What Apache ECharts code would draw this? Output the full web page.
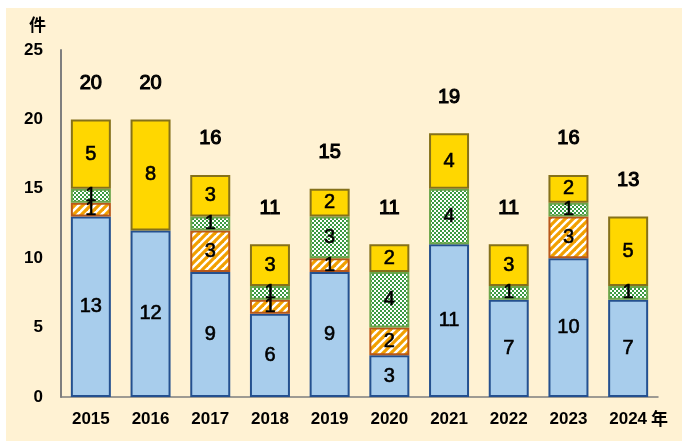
<!DOCTYPE html>
<html><head><meta charset="utf-8">
<script src="https://cdn.jsdelivr.net/npm/echarts@6/dist/echarts.min.js"></script>
<style>html,body{margin:0;padding:0;background:#fff}#c{width:682px;height:444px}</style>
</head><body><div id="c"></div>
<script>
const categories = ['2015','2016','2017','2018','2019','2020','2021','2022','2023','2024'];
const blueVals   = [13,12,9,6,9,3,11,7,10,7];
const orangeVals = [1,0,3,1,1,2,0,0,3,0];
const greenVals  = [1,0,1,1,3,4,4,1,1,1];
const yellowVals = [5,8,3,3,2,2,4,3,2,5];
const totals     = [20,20,16,11,15,11,19,11,16,13];
const yTicks = [0,5,10,15,20,25];

function stripePattern(){
  const c=document.createElement('canvas'); c.width=8; c.height=8;
  const x=c.getContext('2d');
  x.fillStyle='#ffffff'; x.fillRect(0,0,8,8);
  x.strokeStyle='#F2A000'; x.lineWidth=3.2;
  [[-8,8,8,-8],[0,8,8,0],[0,16,16,0]].forEach(l=>{x.beginPath();x.moveTo(l[0],l[1]);x.lineTo(l[2],l[3]);x.stroke();});
  return c;
}
function checkerPattern(){
  const c=document.createElement('canvas'); c.width=4; c.height=4;
  const x=c.getContext('2d');
  x.fillStyle='#3A9A42'; x.fillRect(0,0,4,4);
  x.fillStyle='#ffffff'; x.fillRect(0,0,2,2); x.fillRect(2,2,2,2);
  return c;
}
const FONT = '"Liberation Sans", Arial, "Noto Sans CJK JP", sans-serif';
const nz = arr => arr.map(v => v === 0 ? '-' : v);
const innerLabel = {show:true, position:'inside', color:'#000', fontSize:20, fontFamily:FONT,
  textBorderColor:'#000', textBorderWidth:0.6,
  formatter: p => p.value ? String(p.value) : ''};

function barSeries(name, vals, color, border){
  return {name, type:'bar', stack:'s', data:nz(vals), barWidth:'67%',
    itemStyle:{color, borderColor:border, borderWidth:2}, label:innerLabel};
}

const chart = echarts.init(document.getElementById('c'), null, {renderer:'canvas'});
chart.setOption({
  backgroundColor:'#ffffff',
  animation:false,
  textStyle:{fontFamily:FONT},
  graphic:[
    {type:'rect', z:-10, shape:{x:6,y:8,width:676,height:433}, style:{fill:'#FFF2D3'}},
    {type:'text', left:29, top:16, style:{text:'件', font:'bold 17px "Noto Sans CJK JP"', fill:'#000'}},
    {type:'text', left:651, top:410, style:{text:'年', font:'bold 17px "Noto Sans CJK JP"', fill:'#000'}}
  ],
  grid:{left:61, right:24, top:50, bottom:47},
  xAxis:{type:'category', data:categories,
    axisLine:{lineStyle:{color:'#7F7F7F', width:1.5}}, axisTick:{show:false},
    axisLabel:{color:'#000', fontWeight:'bold', fontSize:17, margin:14, fontFamily:FONT}},
  yAxis:{type:'value', min:yTicks[0], max:yTicks[yTicks.length-1], interval:5,
    axisLine:{show:true, lineStyle:{color:'#7F7F7F', width:2}}, axisTick:{show:false},
    splitLine:{show:false},
    axisLabel:{color:'#000', fontWeight:'bold', fontSize:17, margin:18, fontFamily:FONT}},
  series:[
    barSeries('blue', blueVals, '#A8CDEC', '#24508F'),
    barSeries('orange', orangeVals, {image:stripePattern(), repeat:'repeat'}, '#B8581A'),
    barSeries('green', greenVals, {image:checkerPattern(), repeat:'repeat'}, '#6BA54A'),
    barSeries('yellow', yellowVals, '#FFD700', '#85711A'),
    {name:'total', type:'bar', data:totals, barWidth:'67%', barGap:'-100%', z:1, silent:true,
      itemStyle:{color:'rgba(0,0,0,0)', borderWidth:0},
      label:{show:true, position:'top', distance:26, color:'#000', fontSize:20, fontFamily:FONT,
        textBorderColor:'#000', textBorderWidth:1.1}}
  ]
});
</script></body></html>
